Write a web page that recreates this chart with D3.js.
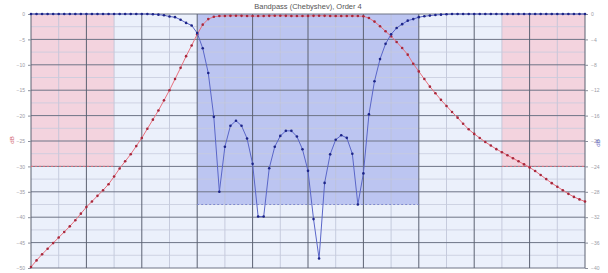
<!DOCTYPE html>
<html>
<head>
<meta charset="utf-8">
<script src="https://cdn.jsdelivr.net/npm/d3@7"></script>
<style>
  body { margin: 0; background: #fff; }
  svg { display: block; font-family: "Liberation Sans", Arial, sans-serif; }
</style>
</head>
<body>
<div id="chart"></div>
<script>
// Bandpass filter response, 101 frequency samples across the plot
var title = "Bandpass (Chebyshev), Order 4";

// S21 magnitude, left axis (dB)
var s21 = [
  -49.8, -48.5, -47.3, -46.2, -45.1, -44.0, -42.9, -41.8, -40.6, -39.3,
  -38.0, -36.9, -35.8, -34.7, -33.5, -32.0, -30.4, -29.0, -27.6, -26.0,
  -24.4, -22.6, -20.8, -19.0, -17.0, -15.0, -12.8, -10.6, -8.3, -6.2,
  -4.0, -2.1, -1.0, -0.55, -0.4, -0.38, -0.36, -0.35, -0.36, -0.38,
  -0.4, -0.4, -0.38, -0.36, -0.35, -0.35, -0.36, -0.38, -0.4, -0.4,
  -0.38, -0.36, -0.35, -0.36, -0.38, -0.4, -0.4, -0.38, -0.38, -0.4,
  -0.45, -0.8, -1.5, -2.4, -3.4, -4.4, -5.5, -6.7, -8.0, -9.8,
  -11.3, -12.8, -14.3, -15.6, -16.9, -18.1, -19.3, -20.4, -21.6, -22.7,
  -23.6, -24.4, -25.2, -25.9, -26.6, -27.2, -27.8, -28.4, -29.0, -29.6,
  -30.2, -30.9, -31.7, -32.5, -33.3, -34.0, -34.7, -35.4, -36.0, -36.5,
  -36.9
];

// S11 return loss, right axis (dB)
var s11 = [
  0, 0, 0, 0, 0, 0, 0, 0, 0, 0,
  0, 0, 0, 0, 0, 0, 0, 0, 0, 0,
  0, 0, -0.05, -0.1, -0.2, -0.4, -0.5, -0.9, -1.4, -1.8,
  -3.0, -5.4, -9.3, -16.2, -28.0, -20.9, -17.6, -16.8, -17.6, -19.6,
  -23.6, -31.9, -31.9, -24.3, -20.9, -19.2, -18.4, -18.4, -19.3, -21.3,
  -24.7, -32.3, -38.5, -26.6, -22.1, -19.8, -19.1, -19.5, -22.0, -30.0,
  -25.1, -15.8, -10.6, -7.1, -4.7, -3.2, -2.2, -1.6, -1.05, -0.8,
  -0.5, -0.35, -0.25, -0.15, -0.1, -0.05, 0, 0, 0, 0,
  0, 0, 0, 0, 0, 0, 0, 0, 0, 0,
  0, 0, 0, 0, 0, 0, 0, 0, 0, 0,
  0
];

var leftTicks = [0, -5, -10, -15, -20, -25, -30, -35, -40, -45, -50];
var rightTicks = [0, -4, -8, -12, -16, -20, -24, -28, -32, -36, -40];

// spec masks: stopbands (left axis) and passband return loss (right axis)
var stopbands = [[0, 15], [85, 100]];
var stopLevel = -30;
var passband = [30, 70];
var passLevel = -30;

var width = 608, height = 273;
var pL = 31, pR = 585, pT = 14, pB = 268;

var svg = d3.select("#chart").append("svg")
    .attr("width", width)
    .attr("height", height);

var x = d3.scaleLinear().domain([0, 100]).range([pL, pR]);
var yL = d3.scaleLinear().domain([-50, 0]).range([pB, pT]);
var yR = d3.scaleLinear().domain([-40, 0]).range([pB, pT]);

// plot background
svg.append("rect")
    .attr("x", pL).attr("y", pT)
    .attr("width", pR - pL).attr("height", pB - pT)
    .attr("fill", "#ebf0fb");

// stopband masks
svg.selectAll(".stop").data(stopbands).enter().append("rect")
    .attr("class", "stop")
    .attr("x", function(d) { return x(d[0]); })
    .attr("y", yL(0))
    .attr("width", function(d) { return x(d[1]) - x(d[0]); })
    .attr("height", yL(stopLevel) - yL(0))
    .attr("fill", "#f3d3de");

// passband mask
svg.append("rect")
    .attr("x", x(passband[0])).attr("y", yR(0))
    .attr("width", x(passband[1]) - x(passband[0]))
    .attr("height", yR(passLevel) - yR(0))
    .attr("fill", "#bcc5f1");

// grid
var g = svg.append("g");
var minorX = d3.range(5, 100, 10), majorX = d3.range(0, 101, 10);
var minorY = d3.range(-47.5, 0, 5), majorY = leftTicks;

g.selectAll(".vmin").data(minorX).enter().append("line")
    .attr("x1", x).attr("x2", x).attr("y1", pT).attr("y2", pB)
    .attr("stroke", "#bcc2d6").attr("stroke-width", 0.8);
g.selectAll(".hmin").data(minorY).enter().append("line")
    .attr("x1", pL).attr("x2", pR)
    .attr("y1", yL).attr("y2", yL)
    .attr("stroke", "#c6cbdd").attr("stroke-width", 0.8);
g.selectAll(".hmaj").data(majorY).enter().append("line")
    .attr("x1", pL).attr("x2", pR)
    .attr("y1", yL).attr("y2", yL)
    .attr("stroke", "#6e7486").attr("stroke-width", 1);
g.selectAll(".vmaj").data(majorX).enter().append("line")
    .attr("x1", x).attr("x2", x).attr("y1", pT).attr("y2", pB)
    .attr("stroke", "#5c6272").attr("stroke-width", 1);

// mask edges
svg.selectAll(".stopEdge").data(stopbands).enter().append("line")
    .attr("x1", function(d) { return x(d[0]); })
    .attr("x2", function(d) { return x(d[1]); })
    .attr("y1", yL(stopLevel)).attr("y2", yL(stopLevel))
    .attr("stroke", "#e0707e").attr("stroke-width", 1)
    .attr("stroke-dasharray", "2,2");
svg.append("line")
    .attr("x1", x(passband[0])).attr("x2", x(passband[1]))
    .attr("y1", yR(passLevel)).attr("y2", yR(passLevel))
    .attr("stroke", "#7f8ad0").attr("stroke-width", 1)
    .attr("stroke-dasharray", "2,2");

// axes
var axL = svg.append("g").attr("transform", "translate(" + pL + ",0)")
    .call(d3.axisLeft(yL).tickValues(leftTicks).tickSize(3).tickPadding(3));
var axR = svg.append("g").attr("transform", "translate(" + pR + ",0)")
    .call(d3.axisRight(yR).tickValues(rightTicks).tickSize(3).tickPadding(3));
[axL, axR].forEach(function(ax) {
  ax.select(".domain").remove();
  ax.selectAll("line").attr("stroke", "#8a8f9c");
  ax.selectAll("text").attr("fill", "#9a9aa4").style("font-size", "5px");
});

svg.append("text")
    .attr("transform", "translate(14,140) rotate(-90)")
    .attr("text-anchor", "middle")
    .attr("fill", "#d05a6a")
    .style("font-size", "6px")
    .text("dB");
svg.append("text")
    .attr("transform", "translate(600,143) rotate(-90)")
    .attr("text-anchor", "middle")
    .attr("fill", "#5a64c0")
    .style("font-size", "6px")
    .text("dB");

// title
svg.append("text")
    .attr("x", (pL + pR) / 2).attr("y", 9)
    .attr("text-anchor", "middle")
    .attr("fill", "#555")
    .style("font-size", "7.5px")
    .text(title);

// curves
function series(data, yScale, lineColor, dotColor) {
  var line = d3.line()
      .x(function(d, i) { return x(i); })
      .y(function(d) { return yScale(d); });
  svg.append("path")
      .datum(data)
      .attr("d", line)
      .attr("fill", "none")
      .attr("stroke", lineColor)
      .attr("stroke-width", 1);
  svg.append("g").selectAll("circle").data(data).enter().append("circle")
      .attr("cx", function(d, i) { return x(i); })
      .attr("cy", function(d) { return yScale(d); })
      .attr("r", 1.3)
      .attr("fill", dotColor);
}

series(s21, yL, "#e8707e", "#a8283c");
series(s11, yR, "#5a66c8", "#1c2488");
</script>
</body>
</html>
